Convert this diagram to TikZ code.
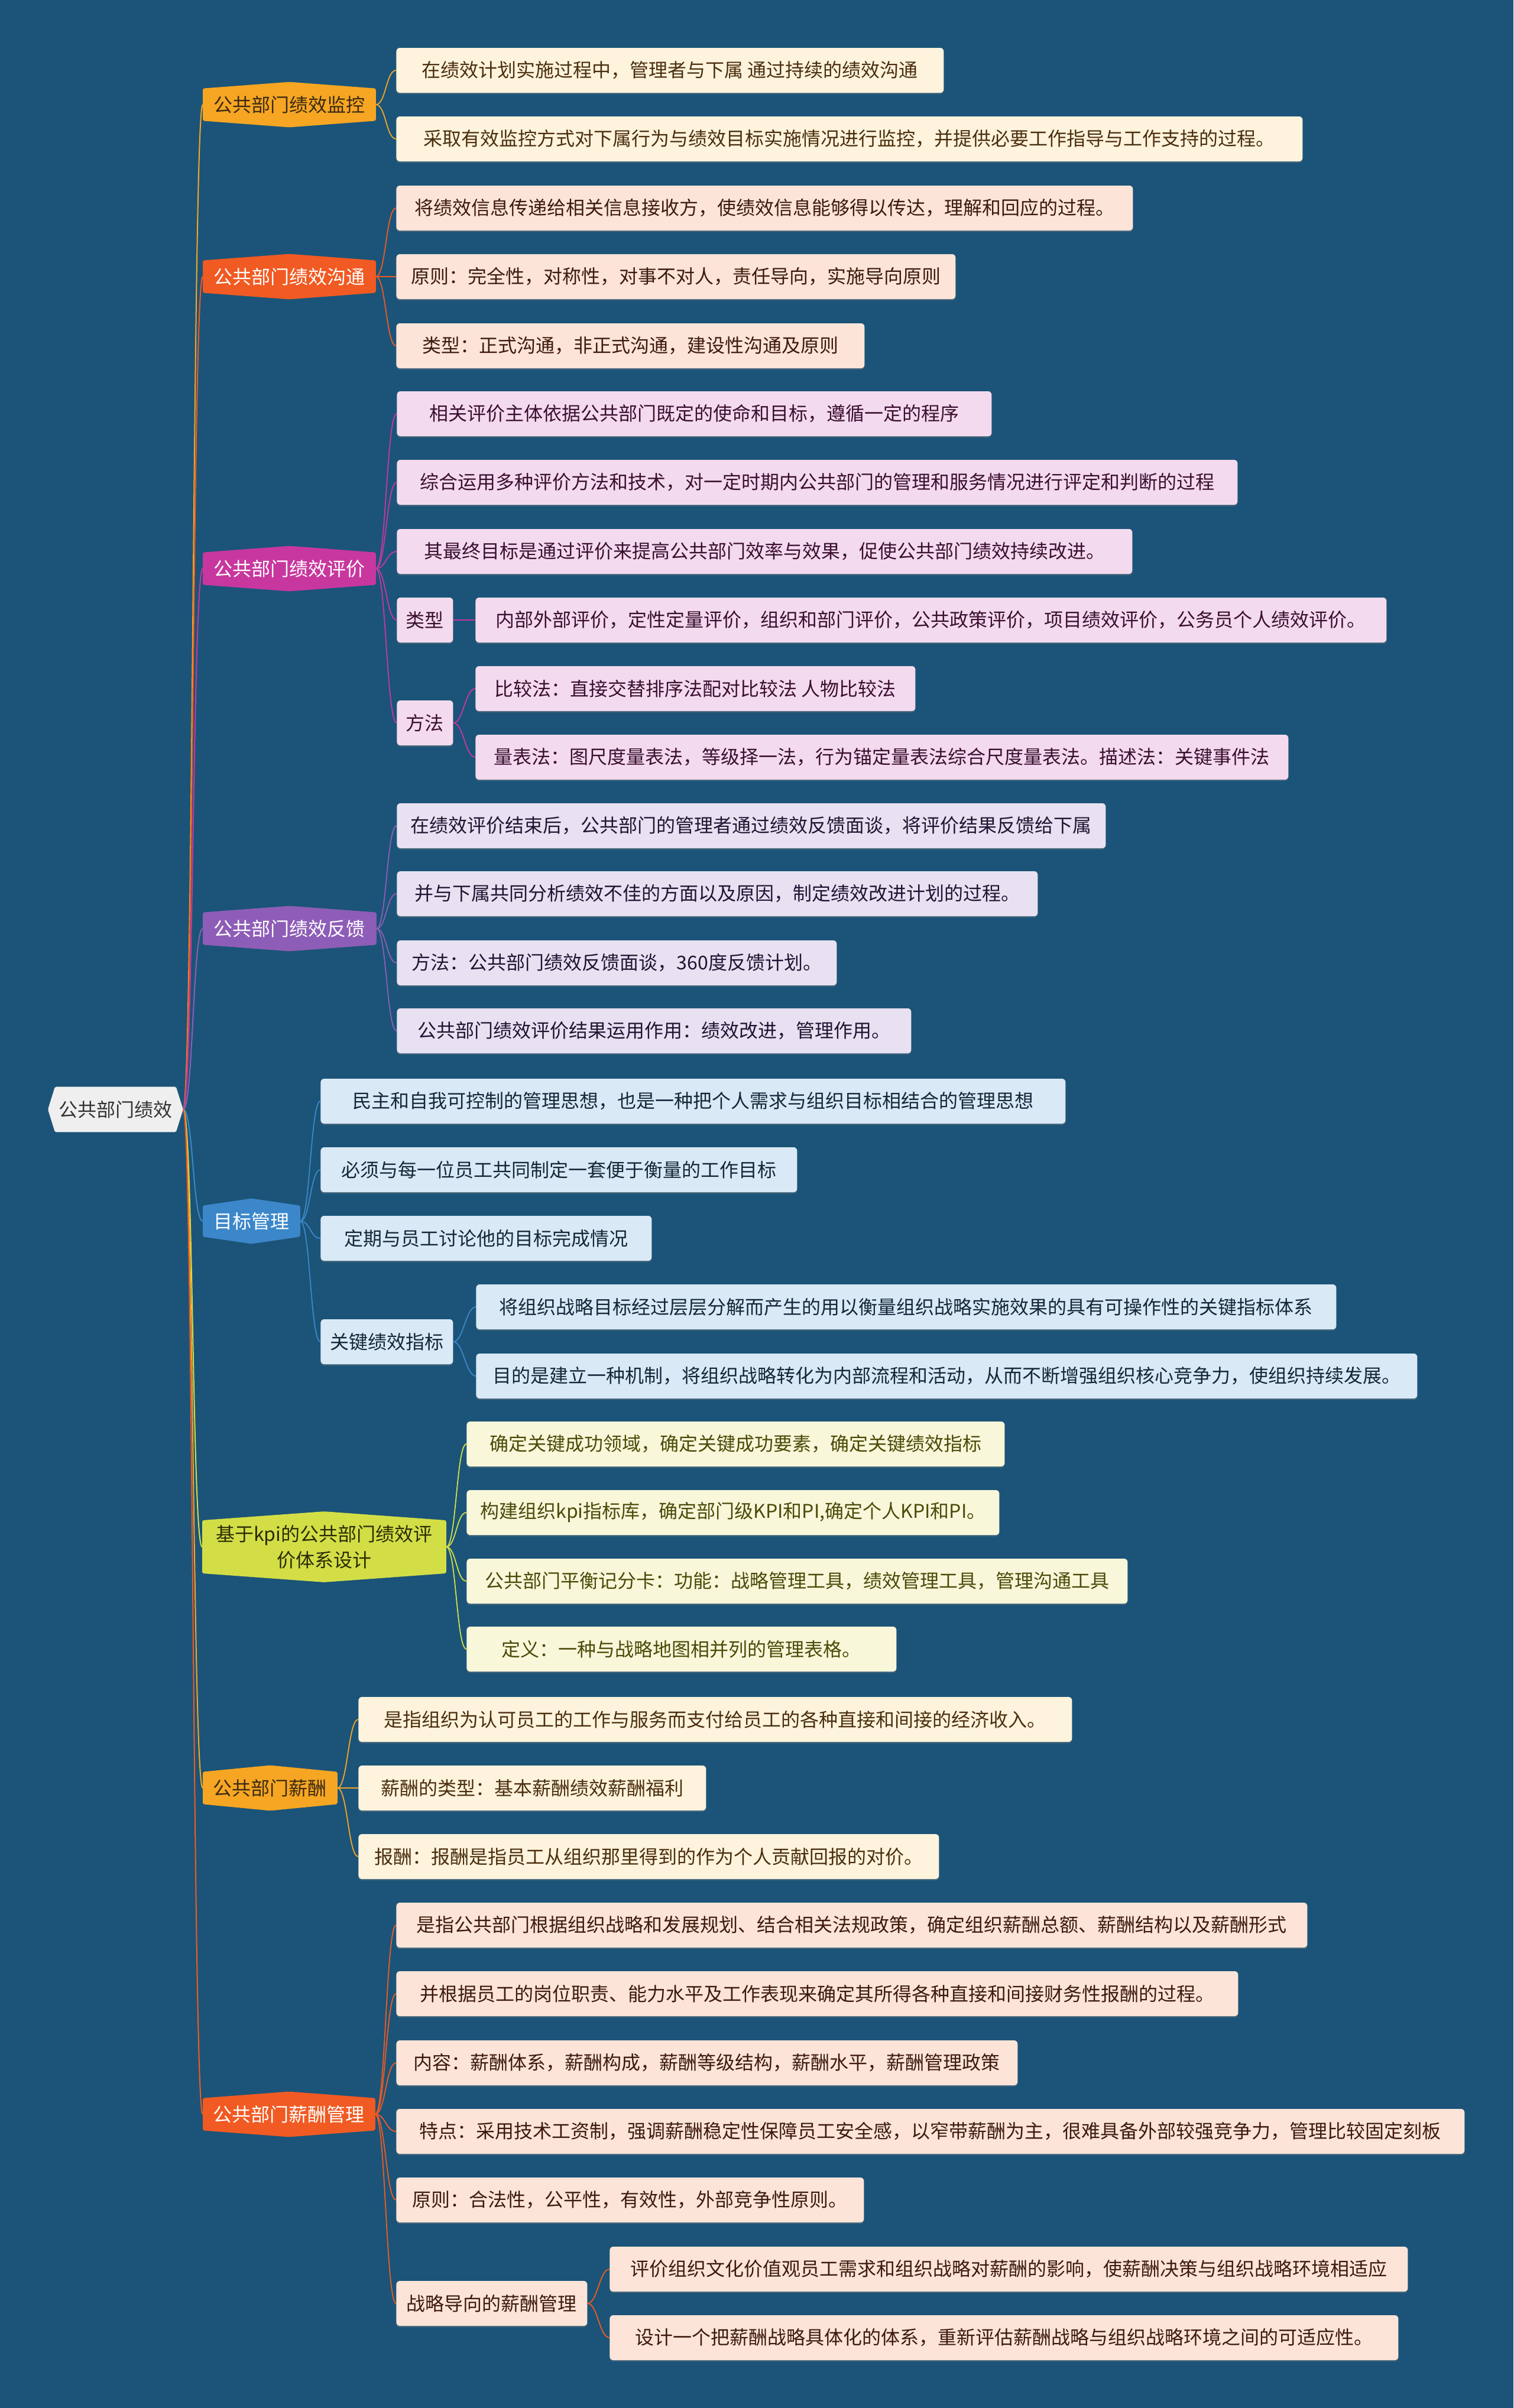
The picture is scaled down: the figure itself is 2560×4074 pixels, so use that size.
\documentclass[tikz,border=0pt]{standalone}
\usepackage{fontspec}
\setmainfont{Noto Sans CJK SC}
\usetikzlibrary{calc,shadows}
\pgfdeclarelayer{back}
\pgfdeclarelayer{bg}
\pgfsetlayers{back,bg,main}

\definecolor{bgc}{HTML}{1B5478}
\definecolor{rootc}{HTML}{EFEFEF}
\definecolor{roott}{HTML}{333333}
\definecolor{cA}{HTML}{F6A623}\definecolor{lA}{HTML}{FEF3DC}\definecolor{tA}{HTML}{4A2E0E}\definecolor{hA}{HTML}{3B2A12}
\definecolor{cB}{HTML}{F15A22}\definecolor{lB}{HTML}{FCE4D8}\definecolor{tB}{HTML}{3D1A0C}
\definecolor{cC}{HTML}{C8379E}\definecolor{lC}{HTML}{F4DAEE}\definecolor{tC}{HTML}{3A0F30}
\definecolor{cD}{HTML}{8E5DB7}\definecolor{lD}{HTML}{E8E1F1}\definecolor{tD}{HTML}{1F1533}
\definecolor{cE}{HTML}{3B87CA}\definecolor{lE}{HTML}{D9E9F6}\definecolor{tE}{HTML}{142638}
\definecolor{cF}{HTML}{D3DE46}\definecolor{lF}{HTML}{F8F7DA}\definecolor{tF}{HTML}{4B4A08}\definecolor{hF}{HTML}{2B2B05}

\newcommand{\vhex}[3]{%
  \fill[#2, rounded corners=1.5pt] ([yshift=-#3]#1.north west) -- (#1.north) -- ([yshift=-#3]#1.north east)
    -- ([yshift=#3]#1.south east) -- (#1.south) -- ([yshift=#3]#1.south west) -- cycle;}
\newcommand{\cn}[4]{%
  \draw[#1, line width=#4] (#2.east) .. controls ($(#2.east)+(17,0)$) and ($(#3.west)+(-17,0)$) .. (#3.west);}

\tikzset{
  base/.style={font=\fontsize{16}{20}\selectfont, inner xsep=4pt, inner ysep=0pt,
    minimum height=38pt, anchor=west, align=center},
  bw/.style={minimum width={#1*0.5pt}},
  leaf/.style={base, rounded corners=3pt,
    drop shadow={shadow xshift=0pt, shadow yshift=-1.2pt, opacity=0.4}},
  lfA/.style={leaf, fill=lA, text=tA},
  lfB/.style={leaf, fill=lB, text=tB},
  lfC/.style={leaf, fill=lC, text=tC},
  lfD/.style={leaf, fill=lD, text=tD},
  lfE/.style={leaf, fill=lE, text=tE},
  lfF/.style={leaf, fill=lF, text=tF},
  hx/.style={base},
}

\begin{document}
\begin{tikzpicture}[x=0.5pt, y=-0.5pt]
\useasboundingbox (0,0) rectangle (2560,4074);
\begin{pgfonlayer}{back}
\fill[bgc] (0,0) rectangle (2560,4074);
\end{pgfonlayer}

% root
\node[base, bw=228, text=roott] (root) at (81,1877) {公共部门绩效};

% level 1
\node[hx, bw=292, text=hA] (m1) at (343,177) {公共部门绩效监控};
\node[hx, bw=292, text=white] (m2) at (343,468) {公共部门绩效沟通};
\node[hx, bw=292, text=white] (m3) at (343,962) {公共部门绩效评价};
\node[hx, bw=293, text=white] (m4) at (343,1571) {公共部门绩效反馈};
\node[hx, bw=164, text=white] (m5) at (343,2066) {目标管理};
\node[hx, bw=412, text=hF, minimum height=59.5pt, font=\fontsize{16}{22}\selectfont] (m6) at (342,2617) {基于kpi的公共部门绩效评\\价体系设计};
\node[hx, bw=227, text=hA] (m7) at (343,3025) {公共部门薪酬};
\node[hx, bw=291, text=white] (m8) at (343,3577) {公共部门薪酬管理};

% group 1
\node[lfA, bw=926] (a1) at (670,119) {在绩效计划实施过程中，管理者与下属 通过持续的绩效沟通};
\node[lfA, bw=1533] (a2) at (670,235) {采取有效监控方式对下属行为与绩效目标实施情况进行监控，并提供必要工作指导与工作支持的过程。};

% group 2
\node[lfB, bw=1246] (b1) at (670,352) {将绩效信息传递给相关信息接收方，使绩效信息能够得以传达，理解和回应的过程。};
\node[lfB, bw=946] (b2) at (670,468) {原则：完全性，对称性，对事不对人，责任导向，实施导向原则};
\node[lfB, bw=792] (b3) at (670,585) {类型：正式沟通，非正式沟通，建设性沟通及原则};

% group 3
\node[lfC, bw=1006] (c1) at (671,700) {相关评价主体依据公共部门既定的使命和目标，遵循一定的程序};
\node[lfC, bw=1422] (c2) at (671,816) {综合运用多种评价方法和技术，对一定时期内公共部门的管理和服务情况进行评定和判断的过程};
\node[lfC, bw=1244] (c3) at (671,933) {其最终目标是通过评价来提高公共部门效率与效果，促使公共部门绩效持续改进。};
\node[lfC, bw=95] (c4) at (671,1049) {类型};
\node[lfC, bw=1541] (c41) at (804,1049) {内部外部评价，定性定量评价，组织和部门评价，公共政策评价，项目绩效评价，公务员个人绩效评价。};
\node[lfC, bw=95] (c5) at (671,1223) {方法};
\node[lfC, bw=744] (c51) at (804,1165) {比较法：直接交替排序法配对比较法 人物比较法};
\node[lfC, bw=1375] (c52) at (804,1281) {量表法：图尺度量表法，等级择一法，行为锚定量表法综合尺度量表法。描述法：关键事件法};

% group 4
\node[lfD, bw=1199] (d1) at (671,1397) {在绩效评价结束后，公共部门的管理者通过绩效反馈面谈，将评价结果反馈给下属};
\node[lfD, bw=1084] (d2) at (671,1512) {并与下属共同分析绩效不佳的方面以及原因，制定绩效改进计划的过程。};
\node[lfD, bw=744] (d3) at (671,1629) {方法：公共部门绩效反馈面谈，360度反馈计划。};
\node[lfD, bw=870] (d4) at (671,1744) {公共部门绩效评价结果运用作用：绩效改进，管理作用。};

% group 5
\node[lfE, bw=1260] (e1) at (542,1863) {民主和自我可控制的管理思想，也是一种把个人需求与组织目标相结合的管理思想};
\node[lfE, bw=806] (e2) at (542,1979) {必须与每一位员工共同制定一套便于衡量的工作目标};
\node[lfE, bw=560] (e3) at (542,2095) {定期与员工讨论他的目标完成情况};
\node[lfE, bw=224] (e4) at (542,2270) {关键绩效指标};
\node[lfE, bw=1455] (e41) at (805,2211) {将组织战略目标经过层层分解而产生的用以衡量组织战略实施效果的具有可操作性的关键指标体系};
\node[lfE, bw=1592] (e42) at (805,2328) {目的是建立一种机制，将组织战略转化为内部流程和活动，从而不断增强组织核心竞争力，使组织持续发展。};

% group 6
\node[lfF, bw=910] (f1) at (789,2443) {确定关键成功领域，确定关键成功要素，确定关键绩效指标};
\node[lfF, bw=901] (f2) at (789,2559) {构建组织kpi指标库，确定部门级KPI和PI,确定个人KPI和PI。};
\node[lfF, bw=1118] (f3) at (789,2675) {公共部门平衡记分卡：功能：战略管理工具，绩效管理工具，管理沟通工具};
\node[lfF, bw=727] (f4) at (789,2790) {定义：一种与战略地图相并列的管理表格。};

% group 7
\node[lfA, bw=1207] (g1) at (606,2909) {是指组织为认可员工的工作与服务而支付给员工的各种直接和间接的经济收入。};
\node[lfA, bw=588] (g2) at (606,3025) {薪酬的类型：基本薪酬绩效薪酬福利};
\node[lfA, bw=982] (g3) at (606,3141) {报酬：报酬是指员工从组织那里得到的作为个人贡献回报的对价。};

% group 8
\node[lfB, bw=1541] (h1) at (670,3257) {是指公共部门根据组织战略和发展规划、结合相关法规政策，确定组织薪酬总额、薪酬结构以及薪酬形式};
\node[lfB, bw=1424] (h2) at (670,3373) {并根据员工的岗位职责、能力水平及工作表现来确定其所得各种直接和间接财务性报酬的过程。};
\node[lfB, bw=1051] (h3) at (670,3490) {内容：薪酬体系，薪酬构成，薪酬等级结构，薪酬水平，薪酬管理政策};
\node[lfB, bw=1807] (h4) at (670,3606) {特点：采用技术工资制，强调薪酬稳定性保障员工安全感，以窄带薪酬为主，很难具备外部较强竞争力，管理比较固定刻板};
\node[lfB, bw=791] (h5) at (670,3722) {原则：合法性，公平性，有效性，外部竞争性原则。};
\node[lfB, bw=323] (h6) at (670,3897) {战略导向的薪酬管理};
\node[lfB, bw=1350] (h61) at (1031,3839) {评价组织文化价值观员工需求和组织战略对薪酬的影响，使薪酬决策与组织战略环境相适应};
\node[lfB, bw=1334] (h62) at (1031,3955) {设计一个把薪酬战略具体化的体系，重新评估薪酬战略与组织战略环境之间的可适应性。};

\begin{pgfonlayer}{bg}
  % trunk connectors
  \cn{cA}{root}{m1}{1pt}
  \cn{cB}{root}{m2}{1pt}
  \cn{cC}{root}{m3}{1pt}
  \cn{cD}{root}{m4}{1pt}
  \cn{cE}{root}{m5}{1pt}
  \cn{cF}{root}{m6}{1pt}
  \cn{cA}{root}{m7}{1pt}
  \cn{cB}{root}{m8}{1pt}
  % leaf connectors
  \foreach \t in {a1,a2} {\cn{cA}{m1}{\t}{0.9pt}}
  \foreach \t in {b1,b2,b3} {\cn{cB}{m2}{\t}{0.9pt}}
  \foreach \t in {c1,c2,c3,c4,c5} {\cn{cC}{m3}{\t}{0.9pt}}
  \cn{cC}{c4}{c41}{0.9pt}
  \foreach \t in {c51,c52} {\cn{cC}{c5}{\t}{0.9pt}}
  \foreach \t in {d1,d2,d3,d4} {\cn{cD}{m4}{\t}{0.9pt}}
  \foreach \t in {e1,e2,e3,e4} {\cn{cE}{m5}{\t}{0.9pt}}
  \foreach \t in {e41,e42} {\cn{cE}{e4}{\t}{0.9pt}}
  \foreach \t in {f1,f2,f3,f4} {\cn{cF}{m6}{\t}{0.9pt}}
  \foreach \t in {g1,g2,g3} {\cn{cA}{m7}{\t}{0.9pt}}
  \foreach \t in {h1,h2,h3,h4,h5,h6} {\cn{cB}{m8}{\t}{0.9pt}}
  \foreach \t in {h61,h62} {\cn{cB}{h6}{\t}{0.9pt}}
  % shapes
  \fill[rootc, rounded corners=1pt] ([xshift=6pt]root.north west) -- ([xshift=-6pt]root.north east) -- (root.east)
    -- ([xshift=-6pt]root.south east) -- ([xshift=6pt]root.south west) -- (root.west) -- cycle;
  \vhex{m1}{cA}{5.5pt}
  \vhex{m2}{cB}{5.5pt}
  \vhex{m3}{cC}{5.5pt}
  \vhex{m4}{cD}{5.5pt}
  \vhex{m5}{cE}{6pt}
  \vhex{m6}{cF}{7.5pt}
  \vhex{m7}{cA}{5.5pt}
  \vhex{m8}{cB}{5.5pt}
\end{pgfonlayer}
\end{tikzpicture}
\end{document}
